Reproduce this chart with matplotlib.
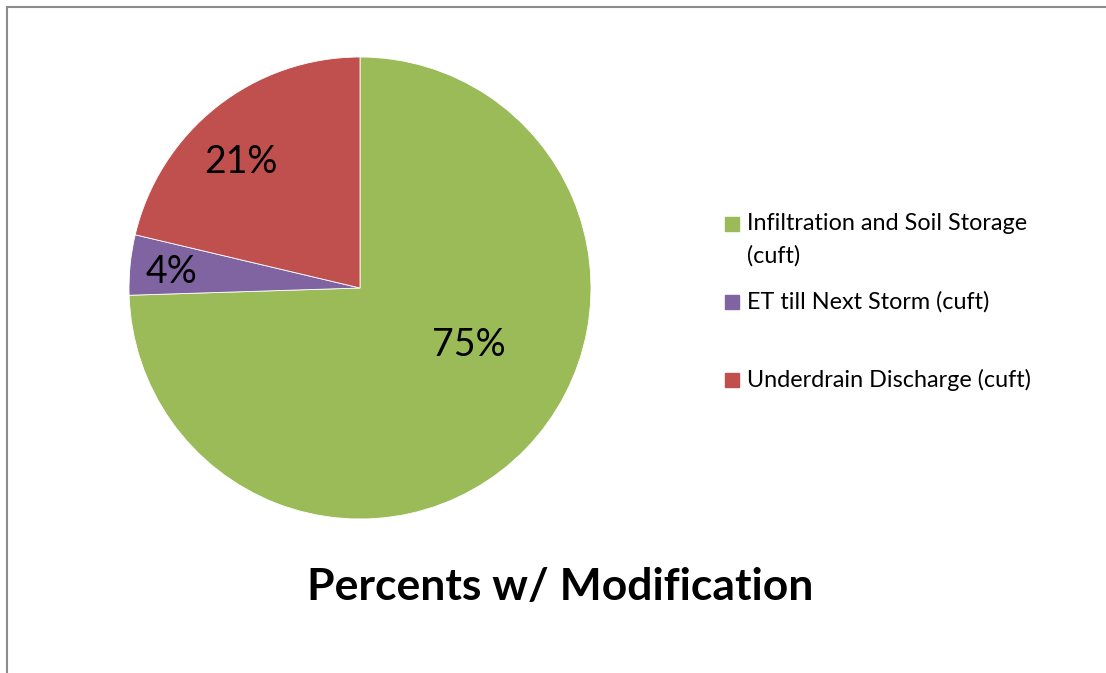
import matplotlib.pyplot as plt
from matplotlib.patches import Rectangle
from matplotlib.lines import Line2D

# shares of the water budget (percent), clockwise from 12 o'clock
labels = ["Infiltration and Soil Storage\n(cuft)", "ET till Next Storm (cuft)", "Underdrain Discharge (cuft)"]
values = [74.5, 4.2, 21.3]
pct_text = ["75%", "4%", "21%"]
colors = ["#9BBB59", "#8064A2", "#C0504D"]
title = "Percents w/ Modification"

plt.rcParams['font.family'] = ['Lato', 'DejaVu Sans']

W, H = 1106, 673
fig = plt.figure(figsize=(W / 100, H / 100), dpi=100)

# pie area: centre (360, 288) px, radius 231 px
cx, cy, r = 360, 288, 231
ax = fig.add_axes([(cx - r) / W, (H - cy - r) / H, 2 * r / W, 2 * r / H])
wedges, _ = ax.pie(values, colors=colors, startangle=90, counterclock=False,
                   radius=1, wedgeprops=dict(linewidth=0.6, edgecolor="white"))
ax.set_xlim(-1, 1)
ax.set_ylim(-1, 1)
ax.set_aspect("equal")
ax.axis("off")

# data labels (offsets in radius units)
label_pos = [(109 / r, -57 / r), (-189 / r, 16 / r), (-119 / r, 126 / r)]
for (lx, ly), t in zip(label_pos, pct_text):
    ax.text(lx, ly, t, fontsize=27, ha="center", va="center", color="black")

# legend, drawn by hand to mimic Excel spacing
leg_y = [224, 302, 380]
for y, lab, c in zip(leg_y, labels, colors):
    fig.patches.append(Rectangle((725 / W, (H - y - 7) / H), 14 / W, 14 / H,
                                 transform=fig.transFigure, color=c))
    for k, line in enumerate(lab.split("\n")):
        fig.text(747 / W, (H - y - 32 * k) / H, line, fontsize=16.8, va="center", ha="left")

fig.text(560 / W, (H - 587) / H, title, fontsize=32, fontweight="bold", ha="center", va="center")

# outer frame (left and top edges visible)
fig.add_artist(Line2D([7 / W, 7 / W], [0, (H - 7) / H], transform=fig.transFigure, color="#8c8c8c", lw=1.5))
fig.add_artist(Line2D([7 / W, 1], [(H - 7) / H, (H - 7) / H], transform=fig.transFigure, color="#8c8c8c", lw=1.5))

fig.savefig("out.png", dpi=100)
